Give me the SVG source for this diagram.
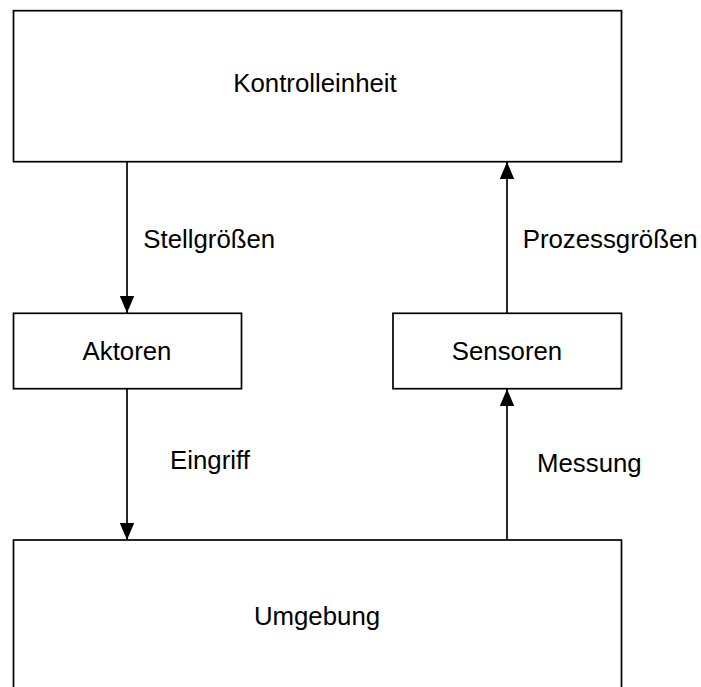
<svg xmlns="http://www.w3.org/2000/svg" width="701" height="687" viewBox="0 0 701 687">
  <style>
    .box { fill: #ffffff; stroke: #000000; stroke-width: 1.7; }
    .lbl { font-family: "Liberation Sans", Arial, sans-serif; font-size: 25.8px; fill: #000000; }
    .mid { text-anchor: middle; }
    .wire { fill: none; stroke: #000000; stroke-width: 1.7; }
  </style>
  <defs>
    <marker id="head" markerUnits="userSpaceOnUse" markerWidth="17" markerHeight="17" viewBox="0 0 17 17" refX="17" refY="8.5" orient="auto">
      <path d="M0,1.3 L17,8.5 L0,15.7 Z" fill="#000000"/>
    </marker>
  </defs>

  <rect width="701" height="687" fill="#ffffff"/>

  <g id="kontrolleinheit">
    <rect class="box" x="13.5" y="10.7" width="608" height="151"/>
    <text class="lbl mid" x="315" y="92">Kontrolleinheit</text>
  </g>

  <g id="aktoren">
    <rect class="box" x="13.5" y="313.3" width="228" height="75.4"/>
    <text class="lbl mid" x="127" y="359.5">Aktoren</text>
  </g>

  <g id="sensoren">
    <rect class="box" x="393" y="313.3" width="228.5" height="75.4"/>
    <text class="lbl mid" x="507" y="359.5">Sensoren</text>
  </g>

  <g id="umgebung">
    <rect class="box" x="13.5" y="540" width="608" height="170"/>
    <text class="lbl mid" x="317" y="624.5">Umgebung</text>
  </g>

  <g id="connectors">
    <line class="wire" x1="127" y1="161.7" x2="127" y2="313" marker-end="url(#head)"/>
    <text class="lbl" x="143.3" y="248.3">Stellgrößen</text>

    <line class="wire" x1="507" y1="313.3" x2="507" y2="162" marker-end="url(#head)"/>
    <text class="lbl" x="522.7" y="248.3">Prozessgrößen</text>

    <line class="wire" x1="127" y1="388.7" x2="127" y2="540" marker-end="url(#head)"/>
    <text class="lbl" x="170" y="468.7">Eingriff</text>

    <line class="wire" x1="507" y1="540" x2="507" y2="389" marker-end="url(#head)"/>
    <text class="lbl" x="537" y="471.7">Messung</text>
  </g>
</svg>
